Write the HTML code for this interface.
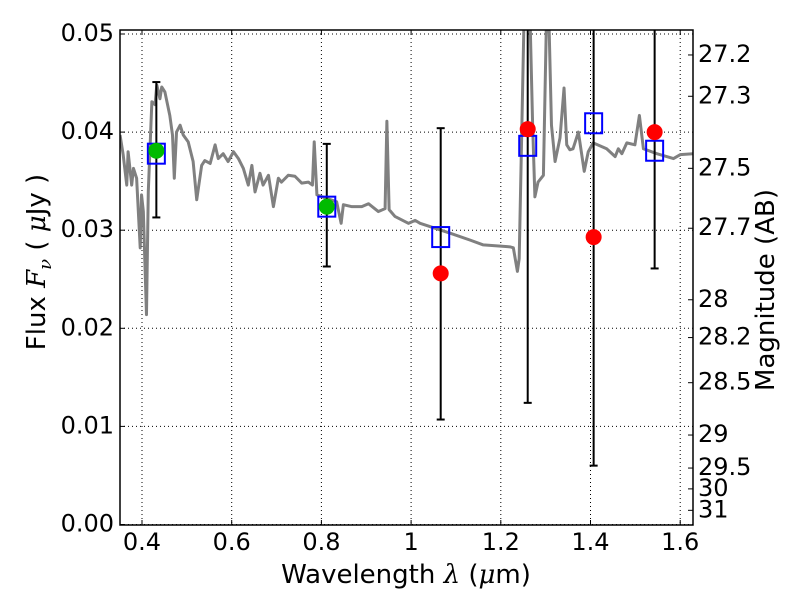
<!DOCTYPE html>
<html><head><meta charset="utf-8"><style>
body{margin:0;background:#fff;}
svg text{font-family:"DejaVu Sans","Liberation Sans",sans-serif;fill:#000;}
</style></head><body>
<svg id="c" width="800" height="600" viewBox="0 0 800 600" xmlns="http://www.w3.org/2000/svg"></svg>
<script>
const specLam=[0.351,0.358,0.366,0.369,0.377,0.381,0.388,0.396,0.399,0.403,0.410,0.414,0.422,0.429,0.433,0.440,0.444,0.451,0.462,0.468,0.472,0.477,0.485,0.492,0.503,0.514,0.522,0.533,0.540,0.552,0.563,0.570,0.581,0.592,0.604,0.615,0.626,0.637,0.645,0.652,0.663,0.670,0.682,0.693,0.704,0.711,0.726,0.741,0.756,0.771,0.780,0.784,0.790,0.808,0.834,0.844,0.849,0.868,0.890,0.905,0.927,0.942,0.946,0.951,0.964,0.994,1.009,1.020,1.087,1.131,1.161,1.221,1.228,1.237,1.241,1.247,1.252,1.265,1.271,1.276,1.283,1.295,1.302,1.307,1.313,1.321,1.332,1.341,1.347,1.354,1.361,1.373,1.386,1.395,1.406,1.436,1.455,1.462,1.470,1.481,1.499,1.509,1.518,1.548,1.585,1.600,1.629];
const specFlux=[0.0397,0.0377,0.0346,0.0380,0.0346,0.0363,0.0353,0.0282,0.0336,0.0319,0.0214,0.0339,0.0431,0.0428,0.0448,0.0434,0.0446,0.0441,0.0417,0.0397,0.0353,0.0400,0.0407,0.0397,0.0390,0.0370,0.0331,0.0366,0.0371,0.0368,0.0387,0.0373,0.0378,0.0370,0.0380,0.0373,0.0363,0.0346,0.0366,0.0339,0.0358,0.0346,0.0356,0.0324,0.0353,0.0349,0.0356,0.0355,0.0348,0.0349,0.0346,0.0390,0.0336,0.0333,0.0329,0.0307,0.0326,0.0324,0.0324,0.0327,0.0319,0.0322,0.0411,0.0321,0.0314,0.0307,0.0310,0.0307,0.0297,0.0290,0.0285,0.0283,0.0282,0.0258,0.0271,0.0407,0.0520,0.0520,0.0407,0.0334,0.0349,0.0356,0.0520,0.0520,0.0407,0.0370,0.0394,0.0445,0.0387,0.0382,0.0383,0.0400,0.0360,0.0380,0.0389,0.0383,0.0375,0.0383,0.0378,0.0389,0.0387,0.0417,0.0383,0.0378,0.0373,0.0377,0.0378];
const greenLam=[0.432,0.812];
const greenFlux=[0.0381,0.0324];
const boxLam=[0.432,0.812,1.066,1.26,1.407,1.543];
const boxFlux=[0.0378,0.0324,0.0293,0.0386,0.0409,0.0381];
const redLam=[1.066,1.26,1.407,1.543];
const redFlux=[0.0256,0.0403,0.0293,0.0400];
const errLam=[0.432,0.812,1.066,1.26,1.407,1.543];
const errLo=[0.0313,0.0263,0.0107,0.0124,0.0060,0.0261];
const errHi=[0.0451,0.0388,0.0404,0.0600,0.0600,0.0600];
const xTicks=[0.4,0.6,0.8,1.0,1.2,1.4,1.6];
const xTickLabels=["0.4","0.6","0.8","1","1.2","1.4","1.6"];
const yTicks=[0,0.01,0.02,0.03,0.04,0.05];
const yTickLabels=["0.00","0.01","0.02","0.03","0.04","0.05"];
const magTicks=[27.2,27.3,27.5,27.7,28,28.2,28.5,29,29.5,30,31];

const L=120,R=693,T=30,B=525;
const X=v=>142+(v-0.4)*448.5;
const Y=v=>524.5-v*9810;
const NS="http://www.w3.org/2000/svg";
const svg=document.getElementById('c');
const FS='font-family:"DejaVu Sans","Liberation Sans",sans-serif;font-size:24px;';
const FT='font-family:"DejaVu Sans","Liberation Sans",sans-serif;font-size:26px;';
function mk(tag,attrs,parent){const e=document.createElementNS(NS,tag);for(const k in attrs)e.setAttribute(k,attrs[k]);(parent||svg).appendChild(e);return e;}
const defs=mk('defs',{});
const cp=mk('clipPath',{id:'clip'},defs);mk('rect',{x:L,y:T,width:R-L,height:B-T},cp);

xTicks.forEach((t,i)=>{const g=mk('line',{x1:X(t),x2:X(t),y1:T,y2:B,stroke:'#000','stroke-width':1,'stroke-dasharray':'1,3'});


const lb=mk('text',{x:X(t),y:B+25,style:FS,'text-anchor':'middle'});lb.textContent=xTickLabels[i];


mk('line',{x1:X(t),x2:X(t),y1:B,y2:B-5,stroke:'#000'});mk('line',{x1:X(t),x2:X(t),y1:T,y2:T+5,stroke:'#000'});});
yTicks.forEach((t,i)=>{const g=mk('line',{x1:L,x2:R,y1:Y(t),y2:Y(t),stroke:'#000','stroke-width':1,'stroke-dasharray':'1,3'});


const lb=mk('text',{x:L-6,y:Y(t)+7,style:FS,'text-anchor':'end'});lb.textContent=yTickLabels[i];


mk('line',{x1:L,x2:L+5,y1:Y(t),y2:Y(t),stroke:'#000'});});
magTicks.forEach(m=>{const f=Math.pow(10,(23.9-m)/2.5);const y=Y(f);
mk('line',{x1:R,x2:R-5,y1:y,y2:y,stroke:'#000'});
const lb=mk('text',{x:R+5,y:y+7,style:FS});lb.textContent=String(m);

});

const plot=mk('g',{'clip-path':'url(#clip)'});
const sp=mk('polyline',{points:specLam.map((l,i)=>X(l)+','+Y(specFlux[i])).join(' '),fill:'none',stroke:'#808080','stroke-width':3,'stroke-linejoin':'round'},plot);


errLam.forEach((l,i)=>{const g=mk('g',{},plot);


mk('line',{x1:X(l),x2:X(l),y1:Y(errLo[i]),y2:Y(errHi[i]),stroke:'#000','stroke-width':2},g);
mk('line',{x1:X(l)-4,x2:X(l)+4,y1:Y(errLo[i]),y2:Y(errLo[i]),stroke:'#000','stroke-width':2},g);
mk('line',{x1:X(l)-4,x2:X(l)+4,y1:Y(errHi[i]),y2:Y(errHi[i]),stroke:'#000','stroke-width':2},g);});
boxLam.forEach((l,i)=>{const r=mk('rect',{x:X(l)-8.5,y:Y(boxFlux[i])-10,width:17,height:20,fill:'none',stroke:'#0000ff','stroke-width':2},plot);

});
greenLam.forEach((l,i)=>{const c=mk('circle',{cx:X(l),cy:Y(greenFlux[i]),r:8,fill:'#00bb00'},plot);

});
redLam.forEach((l,i)=>{const c=mk('circle',{cx:X(l),cy:Y(redFlux[i]),r:8,fill:'#ff0000'},plot);

});

const fr=mk('rect',{x:L,y:T,width:R-L,height:B-T,fill:'none',stroke:'#000','stroke-width':1.5});


const SER='font-family:"DejaVu Serif","Liberation Serif",serif;font-style:italic;';
const xt=mk('text',{x:406,y:583,style:FT,'text-anchor':'middle'});
xt.innerHTML='Wavelength  <tspan style=\''+SER+'\'>λ</tspan> (<tspan style=\''+SER+'\'>μ</tspan>m)';


const yt=mk('text',{x:0,y:0,style:FT,'text-anchor':'middle',transform:'translate(45,262) rotate(-90)'});
yt.innerHTML='Flux  <tspan style=\''+SER+'\'>F</tspan><tspan dy="6" style=\''+SER+'font-size:18px\'>ν</tspan><tspan dy="-6">  (  </tspan><tspan style=\''+SER+'\'>μ</tspan>Jy )';


const rt=mk('text',{x:0,y:0,style:FT,'text-anchor':'middle',transform:'translate(774,290) rotate(-90)'});rt.textContent='Magnitude (AB)';


</script>
</body></html>
